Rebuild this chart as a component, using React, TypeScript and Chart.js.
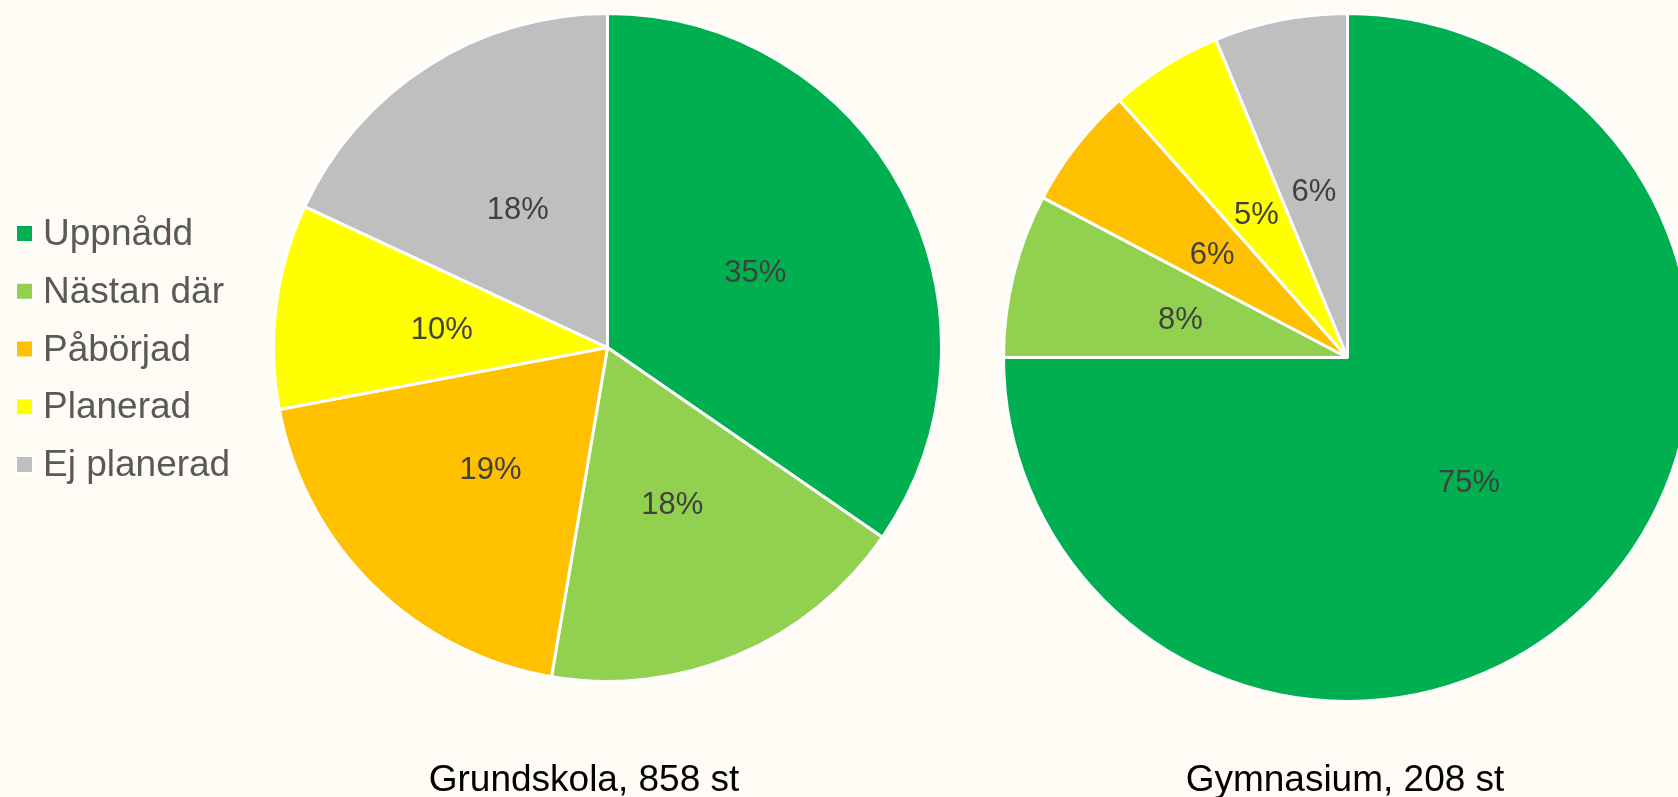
import React, { useEffect, useRef } from 'react';
import { Chart, registerables } from 'chart.js';

Chart.register(...registerables);

const categories = ['Uppnådd', 'Nästan där', 'Påbörjad', 'Planerad', 'Ej planerad'];
const grundskolaCounts = [297, 155, 166, 85, 155];
const gymnasiumCounts = [156, 16, 12, 11, 13];
const chartTitles = ['Grundskola, 858 st', 'Gymnasium, 208 st'];
const sliceColors = ['#00B050', '#92D050', '#FFC000', '#FFFF00', '#BFBFBF'];

const FONT = '"Liberation Sans", Arial, Helvetica, sans-serif';
const BG = '#FFFCF5';

const pctLabelPlugin = {
  id: 'pctLabels',
  afterDatasetsDraw(chart: any) {
    const ctx = chart.ctx;
    const meta = chart.getDatasetMeta(0);
    const data = chart.data.datasets[0].data as number[];
    const total = data.reduce((a, b) => a + b, 0);
    ctx.save();
    ctx.font = `31px ${FONT}`;
    ctx.fillStyle = '#404040';
    ctx.textAlign = 'center';
    ctx.textBaseline = 'middle';
    meta.data.forEach((arc: any, i: number) => {
      const { x, y, startAngle, endAngle, outerRadius } = arc.getProps(
        ['x', 'y', 'startAngle', 'endAngle', 'outerRadius'],
        true
      );
      const mid = (startAngle + endAngle) / 2;
      const r = outerRadius * 0.5;
      ctx.fillText(Math.round((data[i] / total) * 100) + '%', x + Math.cos(mid) * r, y + Math.sin(mid) * r + 4);
    });
    ctx.restore();
  },
};

const bottomTitlePlugin = {
  id: 'bottomTitle',
  afterDraw(chart: any, _args: any, opts: any) {
    if (!opts || !opts.text) return;
    const ctx = chart.ctx;
    ctx.save();
    ctx.font = `37px ${FONT}`;
    ctx.fillStyle = '#000000';
    ctx.textAlign = 'center';
    ctx.textBaseline = 'alphabetic';
    ctx.fillText(opts.text, opts.x, opts.y);
    ctx.restore();
  },
};

const sideLegendPlugin = {
  id: 'sideLegend',
  afterDraw(chart: any, _args: any, opts: any) {
    if (!opts || !opts.show) return;
    const ctx = chart.ctx;
    const labels = chart.data.labels as string[];
    const colors = chart.data.datasets[0].backgroundColor as string[];
    ctx.save();
    ctx.font = `37px ${FONT}`;
    ctx.textAlign = 'left';
    ctx.textBaseline = 'alphabetic';
    labels.forEach((label, i) => {
      const baseY = opts.firstBaseline + i * opts.step;
      const boxY = baseY - 19;
      ctx.fillStyle = '#FFFFFF';
      ctx.fillRect(opts.boxX - 2, boxY - 2, 19, 19);
      ctx.fillStyle = colors[i];
      ctx.fillRect(opts.boxX, boxY, 15, 15);
      ctx.fillStyle = '#595959';
      ctx.fillText(label, opts.textX, baseY);
    });
    ctx.restore();
  },
};

function makeConfig(values: number[], title: string, padding: any, titleX: number, legend: boolean) {
  return {
    type: 'pie' as const,
    data: {
      labels: categories,
      datasets: [
        {
          data: values,
          backgroundColor: sliceColors,
          borderColor: '#FFFFFF',
          borderWidth: 3,
        },
      ],
    },
    options: {
      responsive: false,
      animation: false as const,
      layout: { padding },
      plugins: {
        legend: { display: false },
        tooltip: { enabled: false },
        title: { display: false },
        bottomTitle: { text: title, x: titleX, y: 791 },
        sideLegend: { show: legend, boxX: 17, textX: 43, firstBaseline: 245, step: 57.75 },
      } as any,
    },
    plugins: [pctLabelPlugin, bottomTitlePlugin, sideLegendPlugin],
  };
}

export default function App() {
  const leftRef = useRef<HTMLCanvasElement>(null);
  const rightRef = useRef<HTMLCanvasElement>(null);

  useEffect(() => {
    const left = new Chart(
      leftRef.current as HTMLCanvasElement,
      makeConfig(grundskolaCounts, chartTitles[0], { left: 272, right: 5, top: 12, bottom: 114 }, 584, true) as any
    );
    const right = new Chart(
      rightRef.current as HTMLCanvasElement,
      makeConfig(gymnasiumCounts, chartTitles[1], { left: 54, right: 55, top: 12, bottom: 94 }, 397, false) as any
    );
    return () => {
      left.destroy();
      right.destroy();
    };
  }, []);

  return (
    <div
      style={{
        position: 'fixed',
        left: 0,
        top: 0,
        width: 1678,
        height: 797,
        background: BG,
        overflow: 'hidden',
      }}
    >
      <canvas ref={leftRef} width={948} height={797} style={{ position: 'absolute', left: 0, top: 0 }} />
      <canvas ref={rightRef} width={800} height={797} style={{ position: 'absolute', left: 948, top: 0 }} />
    </div>
  );
}
